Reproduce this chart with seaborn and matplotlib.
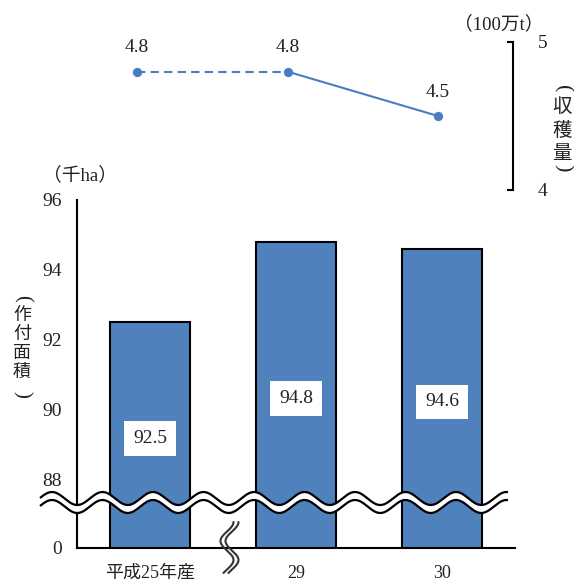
import numpy as np
import pandas as pd
import matplotlib
matplotlib.use("Agg")
import matplotlib.pyplot as plt
import seaborn as sns

# 作付面積（千ha）と収穫量（100万t）
years = ["平成25年産", "29", "30"]
area = [92.5, 94.8, 94.6]
harvest = [4.8, 4.8, 4.5]

area_ticks = [88, 90, 92, 94, 96]
harvest_ticks = [4, 5]

sns.set_theme(style="white")
plt.rcParams["font.family"] = ["Liberation Serif", "Noto Sans CJK JP"]
plt.rcParams["axes.unicode_minus"] = False

TEXT = "#222222"
BAR = "#4f81bd"
LINE = "#4a7cc0"
W, H = 574, 588

df = pd.DataFrame({"year": years, "area": area, "harvest": harvest})

fig = plt.figure(figsize=(W / 100, H / 100), dpi=100)

# ---- bar panel (broken value axis: 0 at the bottom, 88-96 above) ----
y_bottom = 88 - 68 / 35  # value shown at the axis base after the break
ax = fig.add_axes([77 / W, 40 / H, (515 - 77) / W, 348 / H])
sns.barplot(data=df, x="year", y="area", color=BAR, width=0.55,
            edgecolor="black", linewidth=1.5, saturation=1, ax=ax)
ax.set_ylim(y_bottom, 96)
ax.set_xlim(-0.5, 2.5)
ax.set_yticks([y_bottom] + area_ticks)
ax.set_yticklabels(["0"] + [str(t) for t in area_ticks])
ax.yaxis.get_major_ticks()[0].tick1line.set_visible(False)
ax.tick_params(axis="y", direction="in", length=6, width=1.5, pad=11,
               labelsize=14, colors=TEXT)
ax.tick_params(axis="y", color="black")
ax.tick_params(axis="x", length=0, pad=12, labelsize=13, colors=TEXT)
ax.set_xlabel("")
ax.set_ylabel("")
for s in ("top", "right"):
    ax.spines[s].set_visible(False)
for s in ("left", "bottom"):
    ax.spines[s].set_color("black")
    ax.spines[s].set_linewidth(1.5)
ax.set_facecolor("none")

for i, v in enumerate(area):
    ax.text(i, (v + y_bottom) / 2 - 0.1, f"{v:.1f}", ha="center", va="center",
            fontsize=14, color=TEXT, zorder=5,
            bbox=dict(boxstyle="square,pad=0.45", fc="white", ec="none"))

# ---- harvest line panel ----
lx = fig.add_axes([77 / W, (H - 190) / H, (513 - 77) / W, 148 / H])
pos = np.arange(len(harvest))
sns.lineplot(x=pos[:2], y=harvest[:2], color=LINE, linewidth=1.5,
             linestyle=(0, (4, 2.5)), ax=lx)
sns.lineplot(x=pos[1:], y=harvest[1:], color=LINE, linewidth=1.5, ax=lx)
sns.scatterplot(x=pos, y=harvest, color=LINE, s=45, edgecolor=LINE,
                linewidth=0, zorder=4, ax=lx)
lx.set_xlim(-0.3987, 2.498)
lx.set_ylim(4, 5)
lx.set_xticks([])
lx.yaxis.tick_right()
lx.set_yticks(harvest_ticks)
lx.set_yticklabels([str(t) for t in harvest_ticks])
lx.tick_params(axis="y", direction="in", length=4, width=1.5, pad=18,
               labelsize=14, labelcolor=TEXT, color="black")
for s in ("top", "left", "bottom"):
    lx.spines[s].set_visible(False)
lx.spines["right"].set_color("black")
lx.spines["right"].set_linewidth(1.5)
lx.set_facecolor("none")
for i, v in enumerate(harvest):
    lx.annotate(f"{v:.1f}", (i, v), xytext=(0, 17), textcoords="offset points",
                ha="center", va="center", fontsize=14, color=TEXT,
                annotation_clip=False)

# ---- overlay in pixel units: break marks and axis titles ----
ov = fig.add_axes([0, 0, 1, 1], zorder=10)
ov.set_xlim(0, W)
ov.set_ylim(H, 0)
ov.axis("off")

wx = np.linspace(40, 508, 800)
top = 498.5 - 6.5 * np.cos(2 * np.pi * (wx - 52) / 50.5)
bot = top + 8
ov.fill_between(wx, top, bot, color="white", lw=0)
ov.plot(wx, top, color="black", lw=1.6, solid_capstyle="butt")
ov.plot(wx, bot, color="black", lw=1.6, solid_capstyle="butt")

sy = np.linspace(522, 573, 200)
sx = 227 + 6.5 * np.cos(2 * np.pi * (sy - 522) / 38)
ov.plot(sx, sy, color="#333333", lw=1.5)
ov.plot(sx + 5, sy, color="#333333", lw=1.5)

ov.text(80, 175, "（千ha）", ha="center", va="center", fontsize=13.5, color=TEXT)
ov.text(499, 24, "（100万t）", ha="center", va="center", fontsize=13.5, color=TEXT)


def vertical(x, chars, ys, size):
    """Stack a title top to bottom; the round brackets are turned sideways."""
    for ch, y in zip(chars, ys):
        if ch in "()":
            ov.text(x, y, ch, ha="center", va="center", rotation=-90,
                    fontsize=size + 2, color=TEXT, family=["Liberation Serif"])
        else:
            ov.text(x, y, ch, ha="center", va="center",
                    fontsize=size, color=TEXT, family=["Noto Sans CJK JP"])


vertical(22, "(作付面積)", [298, 315, 334, 353, 372, 394], 13)
vertical(562, "(収穫量)", [89, 106, 130, 153, 168], 14)

fig.savefig("out.png", dpi=100)
